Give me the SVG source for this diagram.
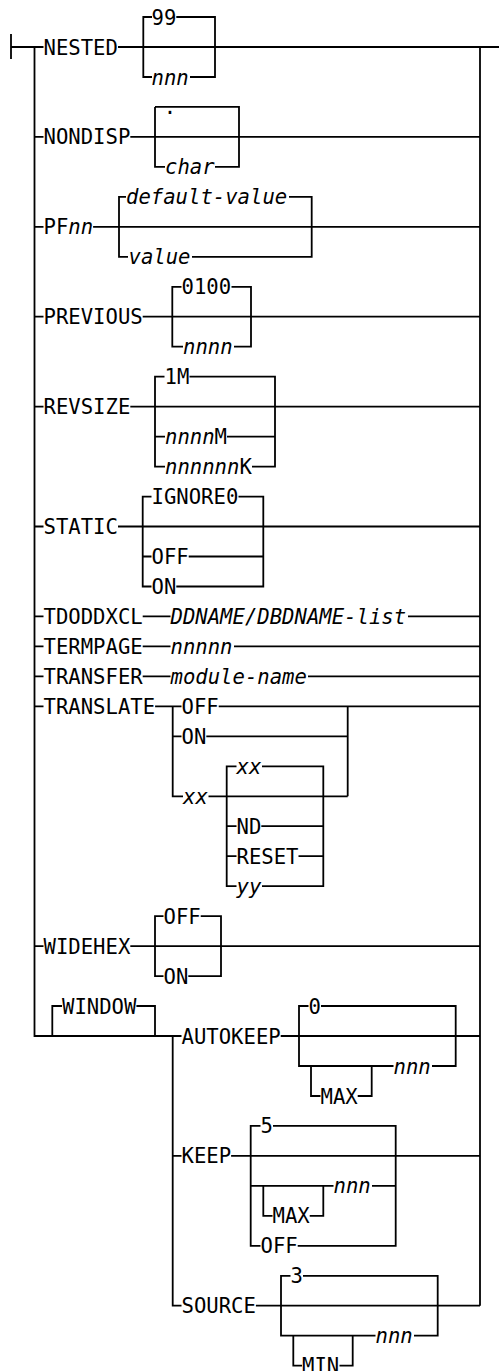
<svg xmlns="http://www.w3.org/2000/svg" width="499" height="1371" viewBox="0 0 499 1371">
<style>
.c{fill:none;stroke:#000;stroke-width:1.8}
.t{font-family:"DejaVu Sans Mono","Liberation Mono",monospace;font-size:20.6px;fill:#000}
.i{font-style:italic}
</style>
<rect width="499" height="1371" fill="#fff"/>
<g id="connectors" class="c">
<path d="M11 34 V59 M11 47 H43.5 M118 47 H499"/>
<path d="M34.5 47 V1036 H181.5"/>
<path d="M480 47 V1305.7"/>
<path d="M152 17 H143.3 V77 H152 M176.3 17 H215 V77 H190"/>
<path d="M34.5 136.9 H43.5 M130.3 136.9 H480"/>
<path d="M155 106.9 H239 V166.9 H215 M165 166.9 H155 V106.9"/>
<path d="M34.5 226.8 H43.5 M93.1 226.8 H480"/>
<path d="M126 196.9 H119 V256.8 H128 M289 196.9 H311.7 V256.8 H192"/>
<path d="M34.5 316.7 H43.5 M142.7 316.7 H480"/>
<path d="M181.5 286.8 H172.3 V346.7 H183 M231.5 286.8 H251 V346.7 H234"/>
<path d="M34.5 406.6 H43.5 M130.3 406.6 H480"/>
<path d="M164.5 376.7 H155 V466.6 H165 M155 436.6 H165 M189.5 376.7 H275 V466.6 H252 M227 436.6 H275"/>
<path d="M34.5 526.5 H43.5 M118 526.5 H480"/>
<path d="M151.5 496.6 H142.7 V586.5 H151.5 M142.7 556.5 H151.5 M238.5 496.6 H263.3 V586.5 H176.3 M188.7 556.5 H263.3"/>
<path d="M34.5 616.4 H43.5 M142.7 616.4 H170.5 M408 616.4 H480"/>
<path d="M34.5 646.4 H43.5 M142.7 646.4 H170.5 M234 646.4 H480"/>
<path d="M34.5 676.4 H43.5 M142.7 676.4 H170.5 M308 676.4 H480"/>
<path d="M34.5 706.3 H43.5 M155.1 706.3 H181.5 M172.7 706.3 V796.3 H183 M172.7 736.3 H181.5 M218.7 706.3 H480 M206.3 736.3 H347.7 M208.5 796.3 H347.7 M347.7 706.3 V796.3"/>
<path d="M236.5 766.3 H226.7 V886.2 H236.5 M226.7 826.2 H236.5 M226.7 856.2 H236.5 M262 766.3 H323.3 V886.2 H262 M261.3 826.2 H323.3 M298.5 856.2 H323.3"/>
<path d="M34.5 946.1 H43.5 M130.3 946.1 H480"/>
<path d="M163.5 916.1 H155 V976.1 H163.5 M200.7 916.1 H221 V976.1 H188.3"/>
<path d="M52.3 1036 V1006 H62 M136.4 1006 H155 V1036"/>
<path d="M172.7 1036 V1305.7 H181.5 M172.7 1155.9 H181.5"/>
<path d="M280.7 1036 H480"/>
<path d="M308.5 1006 H299 V1066 H393.5 M321 1006 H455.7 V1066 H432 M311 1066 V1096 H320.5 M357.7 1096 H371.7 V1066"/>
<path d="M231.1 1155.9 H480"/>
<path d="M260.5 1125.9 H250.7 V1245.8 H260.5 M250.7 1185.9 H333.5 M273 1125.9 H395.7 V1245.8 H297.7 M372 1185.9 H395.7 M263.3 1185.9 V1215.8 H272.5 M309.7 1215.8 H323.3 V1185.9"/>
<path d="M255.9 1305.7 H480"/>
<path d="M290.5 1275.8 H281 V1335.7 H375.5 M303 1275.8 H437.7 V1335.7 H414 M293.3 1335.7 V1365.7 H302 M339.5 1365.7 H352.7 V1335.7"/>
</g>
<g id="nested" class="t">
<text x="43.5" y="54.5">NESTED</text>
<text x="151.5" y="24.5">99</text>
<text x="151.5" y="84.5" class="i">nnn</text>
</g>
<g id="nondisp" class="t">
<text x="43.5" y="144.4">NONDISP</text>
<text x="163.8" y="114.4">.</text>
<text x="165" y="174.4" class="i">char</text>
</g>
<g id="pfnn" class="t">
<text x="43.5" y="234.3">PF<tspan class="i">nn</tspan></text>
<text x="126" y="204.4" class="i">default-value</text>
<text x="128.5" y="264.3" class="i">value</text>
</g>
<g id="previous" class="t">
<text x="43.5" y="324.2">PREVIOUS</text>
<text x="181.5" y="294.3">0100</text>
<text x="183" y="354.2" class="i">nnnn</text>
</g>
<g id="revsize" class="t">
<text x="43.5" y="414.1">REVSIZE</text>
<text x="164.5" y="384.2">1M</text>
<text x="165" y="444.1"><tspan class="i">nnnn</tspan>M</text>
<text x="165" y="474.1"><tspan class="i">nnnnnn</tspan>K</text>
</g>
<g id="static" class="t">
<text x="43.5" y="534">STATIC</text>
<text x="151.5" y="504.1">IGNORE0</text>
<text x="151.5" y="564">OFF</text>
<text x="151.5" y="594">ON</text>
</g>
<g id="tdoddxcl" class="t">
<text x="43.5" y="623.9">TDODDXCL</text>
<text x="170.5" y="623.9" class="i">DDNAME/DBDNAME-list</text>
</g>
<g id="termpage" class="t">
<text x="43.5" y="653.9">TERMPAGE</text>
<text x="170.5" y="653.9" class="i">nnnnn</text>
</g>
<g id="transfer" class="t">
<text x="43.5" y="683.9">TRANSFER</text>
<text x="170.5" y="683.9" class="i">module-name</text>
</g>
<g id="translate" class="t">
<text x="43.5" y="713.8">TRANSLATE</text>
<text x="181.5" y="713.8">OFF</text>
<text x="181.5" y="743.8">ON</text>
<text x="183" y="803.8" class="i">xx</text>
<text x="236.5" y="773.8" class="i">xx</text>
<text x="236.5" y="833.7">ND</text>
<text x="236.5" y="863.7">RESET</text>
<text x="236.5" y="893.7" class="i">yy</text>
</g>
<g id="widehex" class="t">
<text x="43.5" y="953.6">WIDEHEX</text>
<text x="163.5" y="923.6">OFF</text>
<text x="163.5" y="983.6">ON</text>
</g>
<g id="window" class="t">
<text x="62" y="1013.5">WINDOW</text>
</g>
<g id="autokeep" class="t">
<text x="181.5" y="1043.5">AUTOKEEP</text>
<text x="308.5" y="1013.5">0</text>
<text x="393.5" y="1073.5" class="i">nnn</text>
<text x="320.5" y="1103.5">MAX</text>
</g>
<g id="keep" class="t">
<text x="181.5" y="1163.4">KEEP</text>
<text x="260.5" y="1133.4">5</text>
<text x="333.5" y="1193.4" class="i">nnn</text>
<text x="272.5" y="1223.3">MAX</text>
<text x="260.5" y="1253.3">OFF</text>
</g>
<g id="source" class="t">
<text x="181.5" y="1313.2">SOURCE</text>
<text x="290.5" y="1283.3">3</text>
<text x="375.5" y="1343.2" class="i">nnn</text>
<text x="302" y="1373.2">MIN</text>
</g>
</svg>
